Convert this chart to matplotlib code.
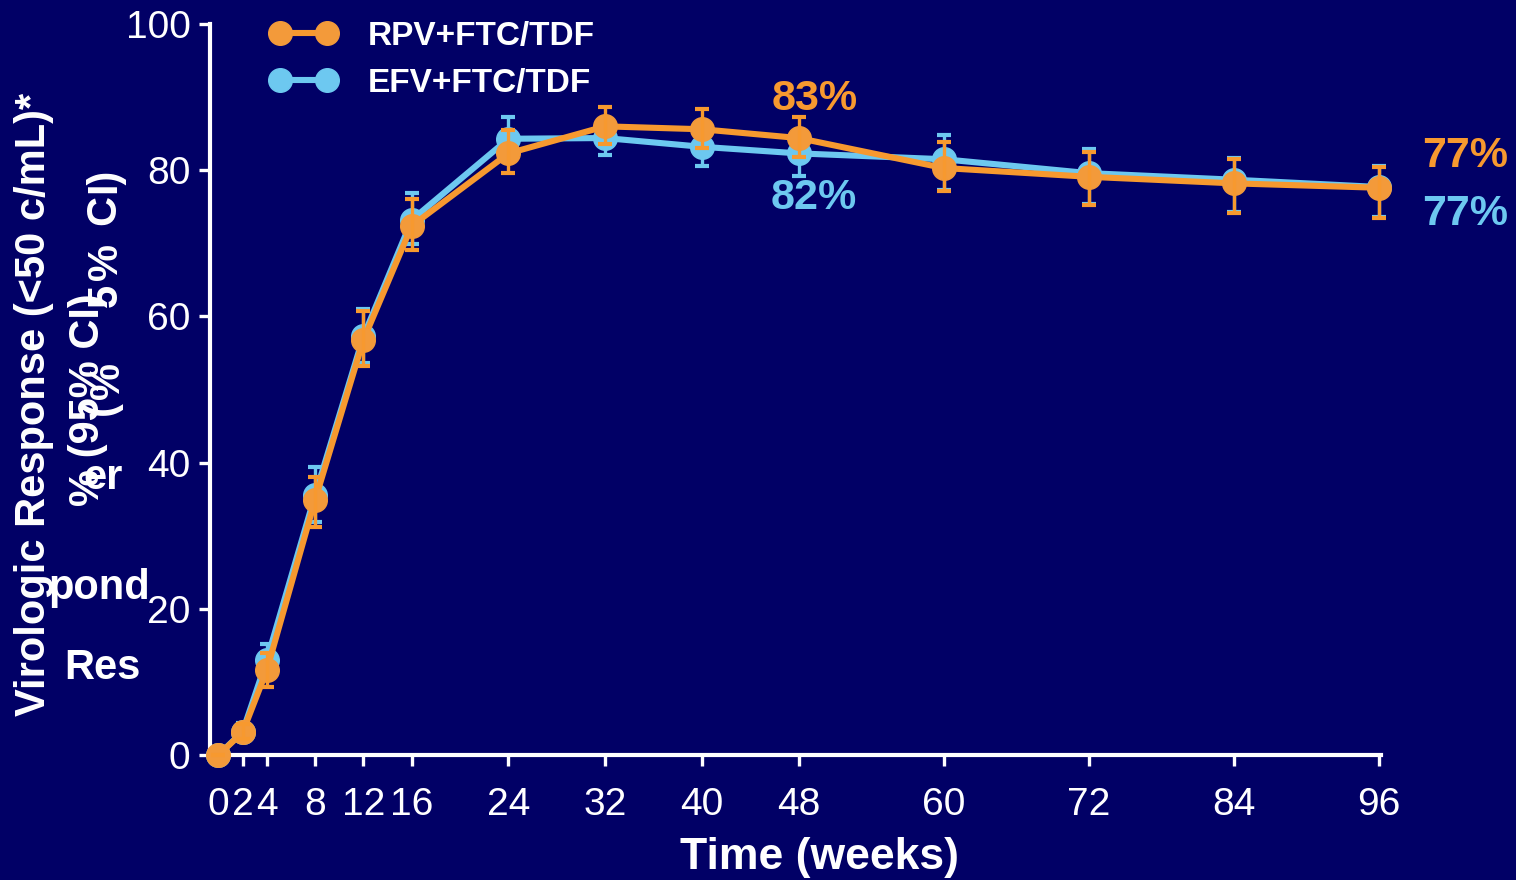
import numpy as np
import matplotlib
matplotlib.use("Agg")
import matplotlib.pyplot as plt
from matplotlib.lines import Line2D

plt.rcParams["font.family"] = ["Liberation Sans", "DejaVu Sans"]

# ------------------------------------------------------------------
# Data
# ------------------------------------------------------------------
weeks = [0, 2, 4, 8, 12, 16, 24, 32, 40, 48, 60, 72, 84, 96]

rpv = [0, 3.1, 11.6, 34.9, 56.8, 72.4, 82.3, 86.0, 85.6, 84.4, 80.3, 79.1, 78.2, 77.6]
rpv_lo = [0, 2.2, 9.3, 31.2, 53.2, 69.1, 79.6, 83.6, 83.0, 81.8, 77.2, 75.2, 74.1, 73.5]
rpv_hi = [0, 4.2, 14.0, 38.0, 60.7, 76.1, 85.5, 88.6, 88.4, 87.3, 83.9, 82.5, 81.5, 80.4]

efv = [0, 3.2, 13.0, 35.6, 57.3, 73.2, 84.3, 84.4, 83.2, 82.3, 81.5, 79.6, 78.7, 77.7]
efv_lo = [0, 2.2, 10.5, 31.9, 53.6, 69.9, 81.2, 82.1, 80.6, 79.2, 77.3, 75.4, 74.3, 73.6]
efv_hi = [0, 4.4, 15.2, 39.4, 61.0, 76.9, 87.3, 86.8, 85.8, 85.1, 84.8, 82.9, 81.7, 80.6]

series_names = ["RPV+FTC/TDF", "EFV+FTC/TDF"]
x_ticks = [0, 2, 4, 8, 12, 16, 24, 32, 40, 48, 60, 72, 84, 96]
y_ticks = [0, 20, 40, 60, 80, 100]

BG = "#010066"
ORANGE = "#F7992F"
ORANGE_MK = "#F39A3A"
BLUE = "#6DC8F0"
W, H = 1516, 880


def px(x, y):
    """Pixel position -> figure fraction."""
    return x / W, 1 - y / H


fig = plt.figure(figsize=(W / 100, H / 100), dpi=100, facecolor=BG)
ax = fig.add_axes([210 / W, 1 - 755 / H, 1171 / W, (755 - 24) / H])
ax.set_facecolor(BG)


def draw(y, lo, hi, color, mk_color, z):
    y = np.array(y)
    err = np.vstack([y - np.array(lo), np.array(hi) - y])
    ax.errorbar(weeks, y, yerr=err, fmt="none", ecolor=color, elinewidth=2.4,
                capsize=5, capthick=3, zorder=z, clip_on=False)
    ax.plot(weeks, y, color=color, lw=4.4, marker="o", ms=17,
            markerfacecolor=mk_color, markeredgecolor=mk_color,
            zorder=z - 0.5, clip_on=False)


draw(efv, efv_lo, efv_hi, BLUE, BLUE, 3)
draw(rpv, rpv_lo, rpv_hi, ORANGE, ORANGE_MK, 5)

ax.set_xlim(-0.7, 96.2)
ax.set_ylim(0, 100)
ax.set_xticks(x_ticks)
ax.set_yticks(y_ticks)
ax.tick_params(colors="white", labelsize=28, width=2.4, length=8, direction="out")
ax.tick_params(axis="x", pad=15)
ax.tick_params(axis="y", pad=6)
for side in ["top", "right"]:
    ax.spines[side].set_visible(False)
for side in ["left", "bottom"]:
    ax.spines[side].set_color("white")
    ax.spines[side].set_linewidth(3)

# end labels
ax.text(49.3, 89.7, "83%", color=ORANGE, fontsize=31, fontweight="bold",
        ha="center", va="center")
ax.text(49.3, 76.2, "82%", color=BLUE, fontsize=31, fontweight="bold",
        ha="center", va="center")
ax.text(103.2, 81.9, "77%", color=ORANGE, fontsize=31, fontweight="bold",
        ha="center", va="center", clip_on=False)
ax.text(103.2, 74.0, "77%", color=BLUE, fontsize=31, fontweight="bold",
        ha="center", va="center", clip_on=False)

# legend
handles = [
    Line2D([], [], color=ORANGE, lw=4.4, marker="o", ms=17,
           markerfacecolor=ORANGE_MK, markeredgecolor=ORANGE_MK),
    Line2D([], [], color=BLUE, lw=4.4, marker="o", ms=17,
           markerfacecolor=BLUE, markeredgecolor=BLUE),
]
leg = fig.legend(handles, series_names, loc="upper left",
                 bbox_to_anchor=px(270, 21), frameon=False, numpoints=2,
                 handlelength=2.0, handletextpad=0.93, labelspacing=0.47,
                 borderpad=0, borderaxespad=0,
                 prop={"size": 24, "weight": "bold"})
for t in leg.get_texts():
    t.set_color("white")

# axis titles
fig.text(*px(819, 857), "Time (weeks)", color="white", fontsize=32,
         fontweight="bold", ha="center", va="center")
fig.text(*px(34, 404), "Virologic Response (<50 c/mL)*", color="white",
         fontsize=30, fontweight="bold", rotation=90, ha="center", va="center")
fig.text(*px(88, 400), "% (95% CI)", color="white", fontsize=30,
         fontweight="bold", rotation=90, ha="center", va="center")

# broken "Responder % (95% CI)" text box from the original slide
for s, x, y in [("Res", 102, 668), ("pond", 99, 588), ("er", 103, 478)]:
    fig.text(*px(x, y), s, color="white", fontsize=30, fontweight="bold",
             ha="center", va="center")
for s, x, y in [("I)", 104, 180), ("C", 104, 210), ("%", 106, 262),
                ("5", 106, 295), ("%", 108, 380), ("(", 102, 408)]:
    fig.text(*px(x, y), s, color="white", fontsize=30, fontweight="bold",
             rotation=90, ha="center", va="center")

fig.savefig("out.png", dpi=100, facecolor=BG)
